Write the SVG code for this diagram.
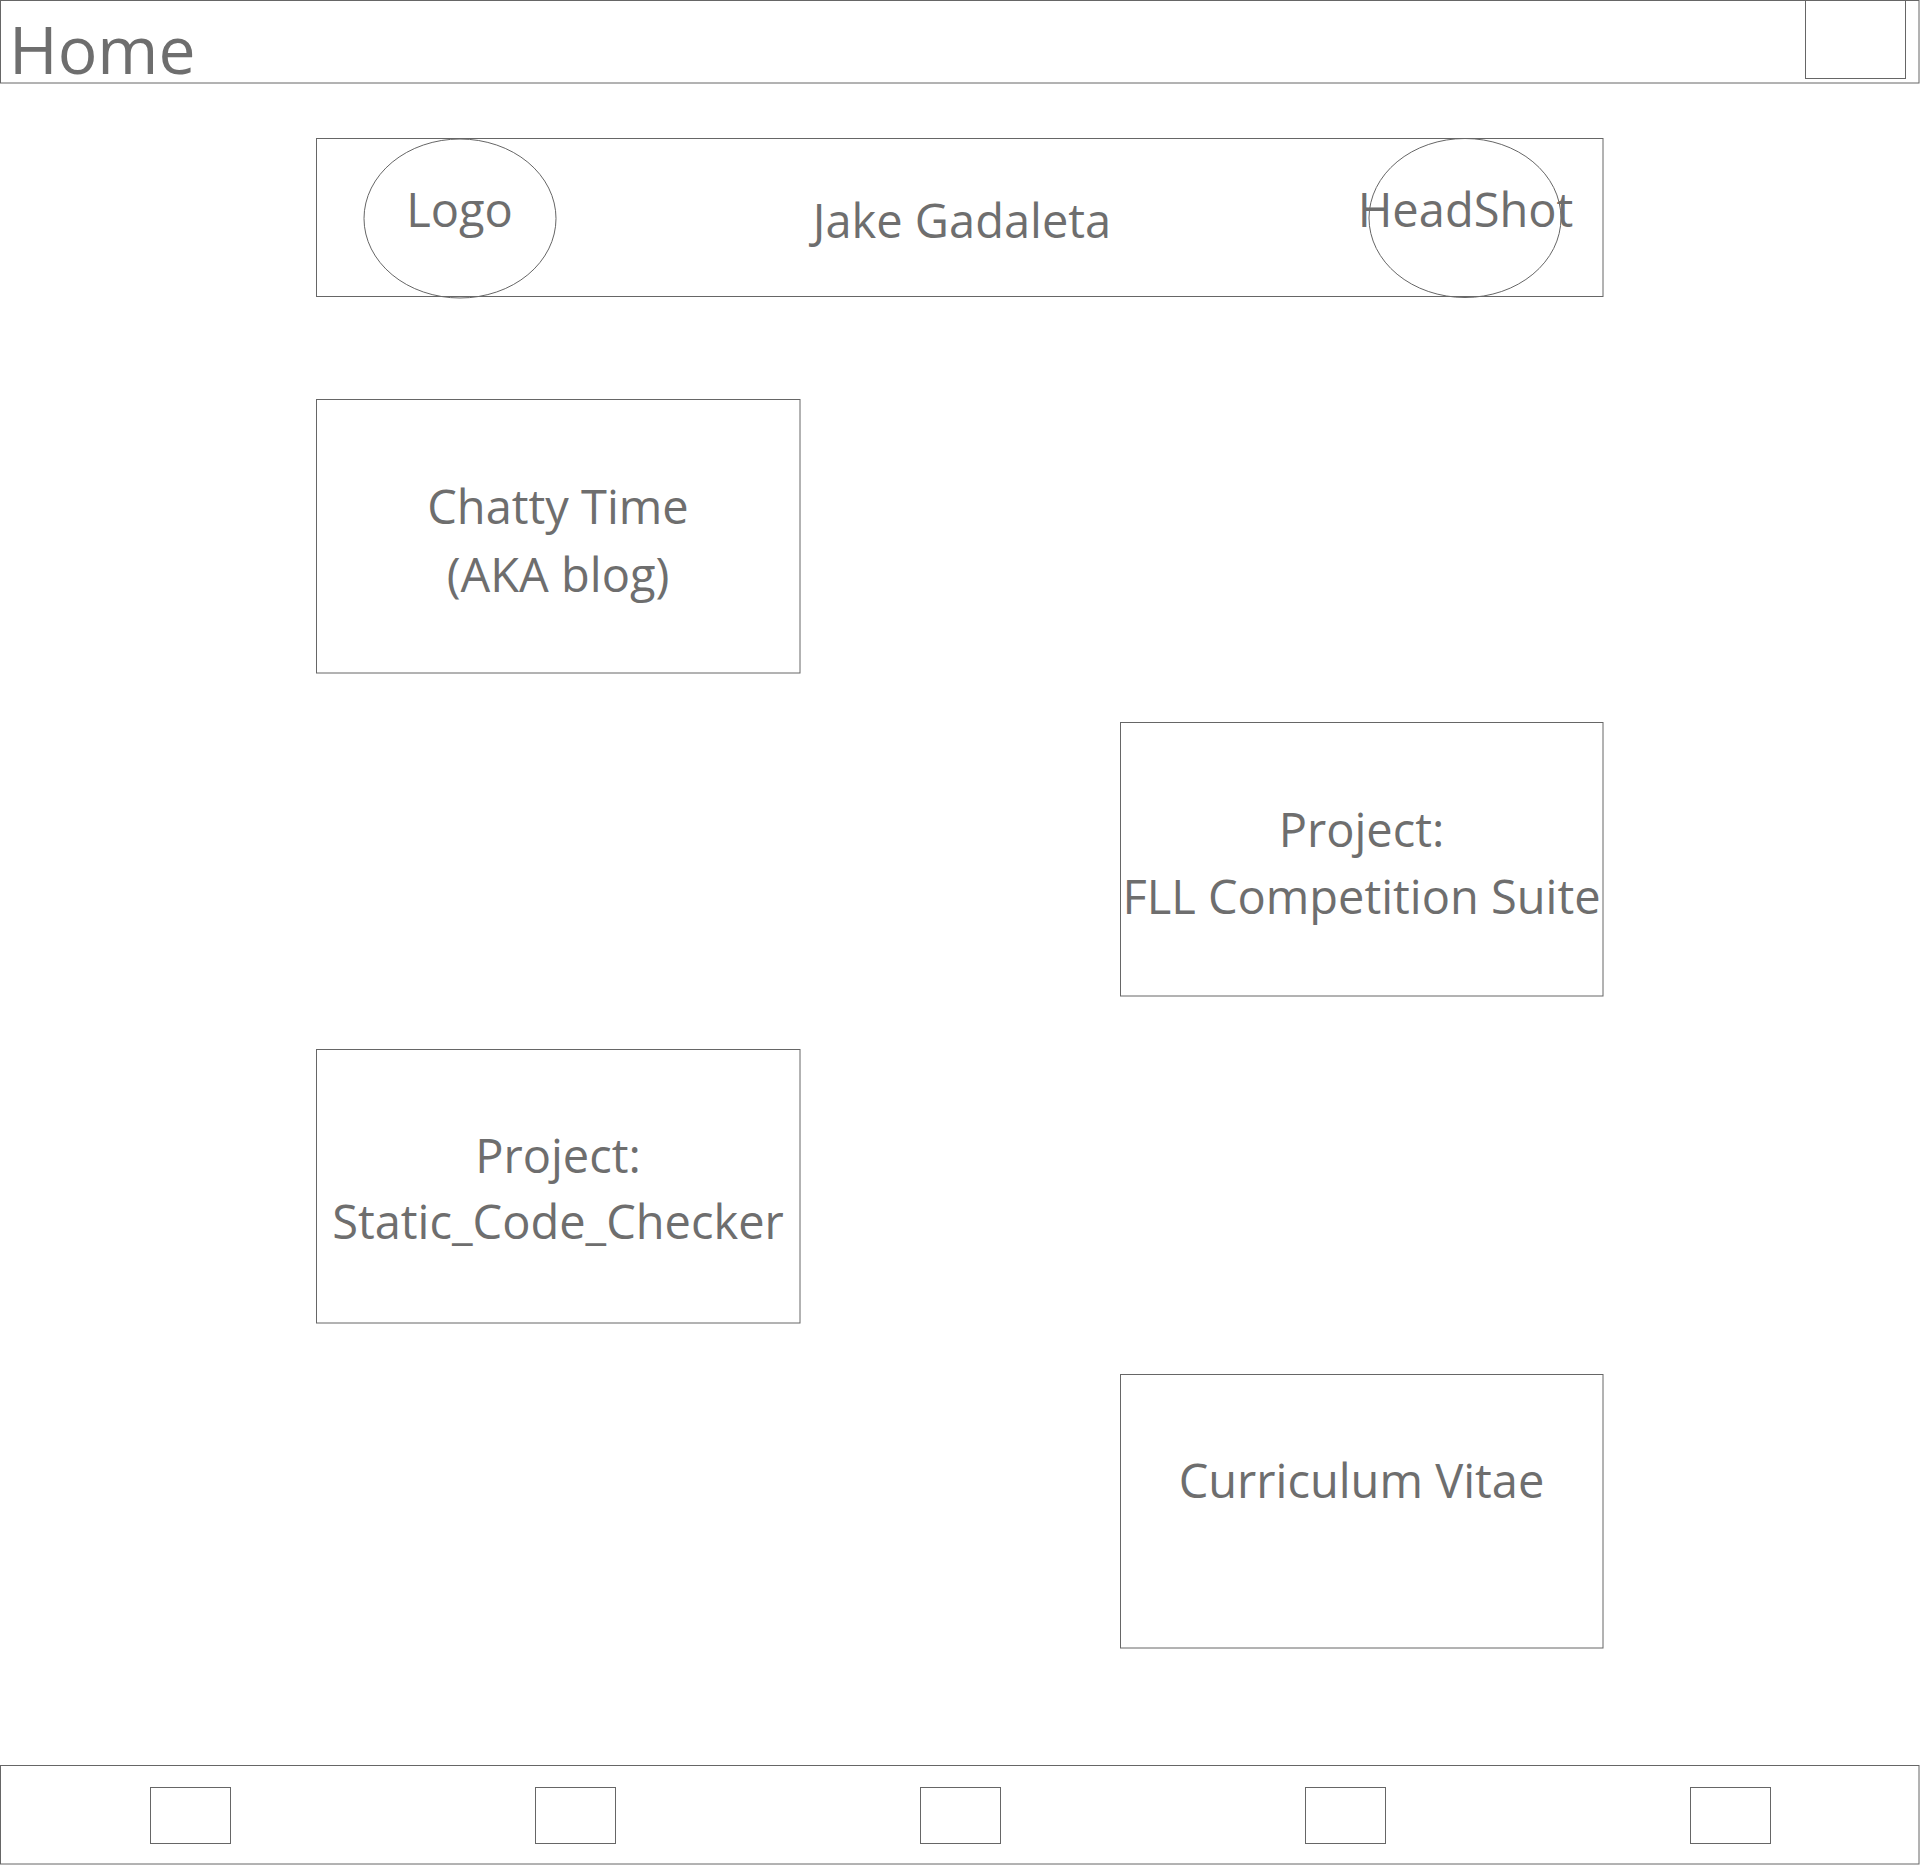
<svg xmlns="http://www.w3.org/2000/svg" width="1920" height="1865" viewBox="0 0 1920 1865">
<style>
.box{fill:#ffffff;stroke:#666666;stroke-width:1}
.el{fill:none;stroke:#666666;stroke-width:1}
.t{font-family:"Open Sans","Noto Sans","Liberation Sans",sans-serif;fill:#6e6e6e;font-size:47px;text-anchor:middle}
.home{font-family:"Open Sans","Noto Sans","Liberation Sans",sans-serif;fill:#6e6e6e;font-size:66px}
</style>
<rect width="1920" height="1865" fill="#ffffff"/>
<g id="header">
<rect class="box" x="0.5" y="0.5" width="1918.5" height="82.5"/>
<text class="home" x="9" y="74">Home</text>
<rect class="box" x="1805.5" y="0.5" width="100" height="78"/>
</g>
<g id="banner">
<rect class="box" x="316.5" y="138.5" width="1286.5" height="158"/>
<text class="t" x="962" y="238">Jake Gadaleta</text>
</g>
<g id="logo">
<ellipse class="el" cx="460" cy="218.5" rx="96" ry="79.5"/>
<text class="t" x="459.5" y="227">Logo</text>
</g>
<g id="headshot">
<ellipse class="el" cx="1465" cy="218" rx="96" ry="79.5"/>
<text class="t" x="1465.5" y="227">HeadShot</text>
</g>
<g id="chatty">
<rect class="box" x="316.5" y="399.5" width="483.5" height="273.5"/>
<text class="t" x="558" y="524">Chatty Time</text>
<text class="t" x="558" y="592">(AKA blog)</text>
</g>
<g id="fll">
<rect class="box" x="1120.5" y="722.5" width="482.5" height="273.5"/>
<text class="t" x="1361.5" y="847">Project:</text>
<text class="t" x="1361.5" y="914">FLL Competition Suite</text>
</g>
<g id="static">
<rect class="box" x="316.5" y="1049.5" width="483.5" height="273.5"/>
<text class="t" x="558" y="1173">Project:</text>
<text class="t" x="558" y="1239">Static_Code_Checker</text>
</g>
<g id="cv">
<rect class="box" x="1120.5" y="1374.5" width="482.5" height="273.5"/>
<text class="t" x="1361.5" y="1498">Curriculum Vitae</text>
</g>
<g id="footer">
<rect class="box" x="0.5" y="1765.5" width="1918.5" height="98.5"/>
<rect class="box" x="150.5" y="1787.5" width="80" height="56"/>
<rect class="box" x="535.5" y="1787.5" width="80" height="56"/>
<rect class="box" x="920.5" y="1787.5" width="80" height="56"/>
<rect class="box" x="1305.5" y="1787.5" width="80" height="56"/>
<rect class="box" x="1690.5" y="1787.5" width="80" height="56"/>
</g>
<g id="connectors"/>
</svg>
